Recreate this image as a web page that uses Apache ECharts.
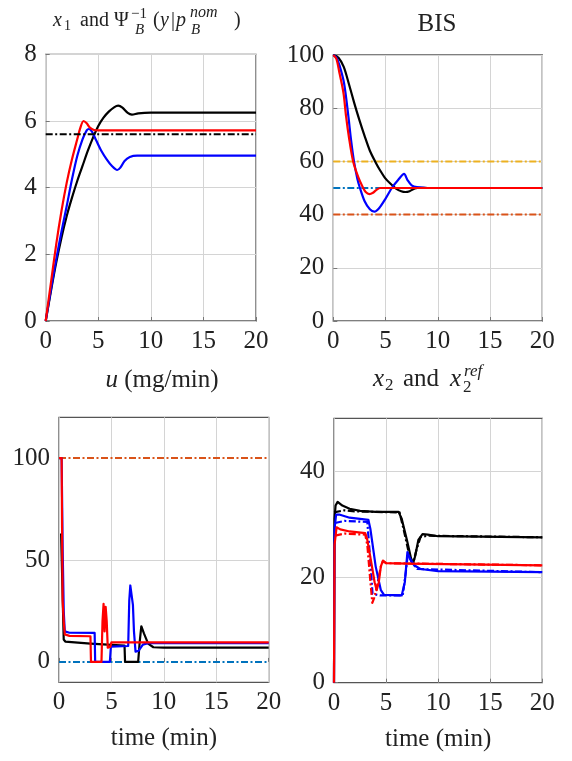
<!DOCTYPE html>
<html>
<head>
<meta charset="utf-8">
<script src="https://cdn.jsdelivr.net/npm/echarts@6/dist/echarts.min.js"></script>
<style>html,body{margin:0;padding:0;background:#fff}#c{width:572px;height:761px}</style>
</head>
<body>
<div id="c"></div>
<script>
// ---------- DATA ----------
// Top-left: x1 and Psi_B^-1(y|p_B^nom)
const x1Black = [[0,0],[0.5,0.9],[1.0,1.75],[1.5,2.5],[2.0,3.15],[2.5,3.7],[3.0,4.2],[3.5,4.65],[4.0,5.1],[4.5,5.5],[5.0,5.85],[5.5,6.1],[6.0,6.28],[6.5,6.41],[6.9,6.46],[7.3,6.4],[7.8,6.24],[8.2,6.19],[8.8,6.23],[10,6.25],[14,6.25],[20,6.25]];
const x1Blue  = [[0,0],[0.5,0.95],[1.0,1.85],[1.5,2.68],[2.0,3.45],[2.5,4.25],[3.0,4.95],[3.5,5.45],[3.9,5.72],[4.1,5.76],[4.4,5.68],[4.8,5.42],[5.3,5.1],[5.8,4.85],[6.3,4.65],[6.8,4.53],[7.1,4.6],[7.5,4.8],[8.0,4.92],[8.7,4.96],[10,4.96],[14,4.96],[20,4.96]];
const x1Red   = [[0,0],[0.5,1.15],[1.0,2.3],[1.5,3.3],[2.0,4.15],[2.5,4.85],[3.0,5.45],[3.3,5.8],[3.6,6.0],[3.9,5.93],[4.2,5.8],[4.6,5.73],[5.0,5.72],[6,5.72],[10,5.72],[20,5.72]];
const x1Ref   = [[0,5.6],[20,5.6]];
// Top-right: BIS
const bisBlack = [[0,100],[0.5,99],[1,95.5],[1.5,89],[2,82],[2.5,75.5],[3,69.5],[3.5,64],[4,60],[4.5,56.5],[5,53.5],[5.5,51.5],[6,49.8],[6.5,48.8],[6.9,48.5],[7.3,48.8],[7.8,49.8],[8.3,50.1],[9,50],[10,50],[14,50],[20,50]];
const bisBlue  = [[0,100],[0.3,99],[0.6,96],[1.03,89.4],[1.44,77],[1.7,68],[1.98,60],[2.3,53.5],[2.55,50],[3,45],[3.5,42],[3.93,41.1],[4.4,42.5],[5,46],[5.6,50],[6.2,53],[6.77,55.3],[7.1,53],[7.5,51],[8,50.3],[9,50],[10,50],[14,50],[20,50]];
const bisRed   = [[0,100],[0.3,98.5],[0.6,93],[0.8,89.4],[1,85],[1.22,77],[1.5,69],[1.9,60],[2.4,54],[2.8,50.5],[3.1,48.5],[3.45,47.7],[3.8,48.2],[4.1,49.2],[4.5,50],[5,50],[10,50],[20,50]];
const bisUpper  = [[0,60],[20,60]];
const bisTarget = [[0,50],[20,50]];
const bisLower  = [[0,40],[20,40]];
// Bottom-left: u (mg/min)
const uBlack = [[0.2,63],[0.3,63],[0.45,11],[0.6,10],[3,9],[6.25,8],[6.3,0],[7.55,0],[7.7,10],[7.85,17.5],[8.1,14],[8.5,9],[9,7.2],[10,7],[20,7]];
const uBlue  = [[0,100],[0.25,100],[0.35,55],[0.45,25],[0.55,15],[1,14.3],[3.4,14.2],[3.45,0],[4.85,0],[4.95,7.5],[6.6,7.8],[6.7,30],[6.8,37.5],[6.95,37],[7.05,28],[7.15,15],[7.3,5],[7.6,5.5],[8.0,8.5],[8.5,9.2],[20,9.2]];
const uRed   = [[0,100],[0.25,100],[0.3,60],[0.35,30],[0.45,20],[0.55,13.5],[1,12.8],[3.0,12.6],[3.05,0],[4.05,0],[4.15,20],[4.25,28.5],[4.35,15],[4.45,27],[4.55,20],[4.65,7],[4.9,7.5],[5.0,9.6],[20,9.6]];
const uMax = [[0,100],[20,100]];
const uMin = [[0,0],[20,0]];
const uTicks = [0, 50, 100];
const uGrid = [50];
// Bottom-right: x2 and x2ref
const x2Black    = [[0,0],[0.05,31],[0.15,33.5],[0.35,34.2],[0.8,33.5],[1.5,32.9],[2.5,32.5],[4,32.3],[6.2,32.3],[6.5,31],[7.0,27],[7.4,23.5],[7.6,22.6],[7.8,24],[8.1,27],[8.5,28.1],[9,28],[10,27.7],[20,27.5]];
const x2BlackRef = [[0,32.2],[1,32.6],[2,32.4],[6.3,32.2],[6.8,28],[7.3,23.5],[7.6,22.6],[7.9,25],[8.3,27.5],[9,27.8],[20,27.5]];
const x2Blue     = [[0,0],[0.05,29],[0.2,31.8],[0.5,31.8],[1.5,31.2],[3.3,30.8],[3.5,29],[4.0,22],[4.5,17.5],[4.8,16.6],[6.5,16.5],[6.8,19],[7.05,24.7],[7.3,23.5],[7.7,22.2],[8.3,21.5],[10,21.1],[20,20.9]];
const x2BlueRef  = [[0.1,30.2],[1,30.6],[3.2,30.4],[3.45,24],[3.7,16.8],[4.4,16.5],[6.6,16.5],[6.9,21],[7.1,24.5],[7.4,23],[8,21.5],[20,20.9]];
const x2Red      = [[0,0],[0.05,26],[0.25,29.4],[0.6,29],[1.5,28.6],[3.0,28.3],[3.2,27],[3.6,22.5],[3.9,19],[4.1,17.5],[4.3,19],[4.5,22],[4.7,23.1],[5,22.6],[7,22.5],[20,22.2]];
const x2RedRef   = [[0.1,27.8],[1,28.2],[3.0,28],[3.2,26],[3.5,19],[3.68,15.1],[3.85,16],[4.1,18],[4.5,22],[4.7,23],[5,22.6],[20,22.2]];
const x2Ticks = [0, 20, 40];
const x2Grid = [20, 40];

// ---------- STYLE ----------
const FF = '"Liberation Serif", "Times New Roman", serif';
const TXT = '#222';
const GRIDC = '#d4d4d4';
const C_BLACK = '#000', C_BLUE = '#0000ff', C_RED = '#ff0000';
const C_ORANGE = '#EDB120', C_LBLUE = '#0072BD', C_RORANGE = '#D95319';
const DASHDOT = [7, 2.5, 2, 2.5];

function xAxis(i, withName) {
  const a = {
    gridIndex: i, type: 'value', min: 0, max: 20, interval: 5,
    axisLine: {show: false},
    axisTick: {show: true, inside: true, length: 4, lineStyle: {color: '#777'}},
    axisLabel: {fontFamily: FF, fontSize: 25, color: TXT, margin: 8},
    splitLine: {show: true, lineStyle: {color: GRIDC, width: 1}}
  };
  if (withName) {
    a.name = 'time (min)';
    a.nameLocation = 'middle';
    a.nameGap = 44;
    a.nameTextStyle = {fontFamily: FF, fontSize: 25, color: TXT};
  }
  return a;
}
function yAxis(i, min, max, interval, custom) {
  const a = {
    gridIndex: i, type: 'value', min: min, max: max,
    axisLine: {show: false},
    axisTick: {show: true, inside: true, length: 4, lineStyle: {color: '#777'}},
    axisLabel: {fontFamily: FF, fontSize: 25, color: TXT, margin: 9},
    splitLine: {show: true, lineStyle: {color: GRIDC, width: 1}}
  };
  if (custom) {
    a.axisLabel.customValues = custom;
    a.axisTick.customValues = custom;
    a.splitLine.show = false;
  } else {
    a.interval = interval;
  }
  return a;
}
function line(i, data, color, opts) {
  opts = opts || {};
  return {
    type: 'line', xAxisIndex: i, yAxisIndex: i, data: data,
    showSymbol: false, symbol: 'none', animation: false,
    smooth: opts.smooth ? 0.3 : false,
    z: opts.z || 3,
    lineStyle: {color: color, width: opts.width || 2.2, type: opts.dash ? DASHDOT : 'solid', cap: 'butt', join: 'round'}
  };
}
// horizontal grid lines for axes that use custom tick values
function gridLines(i, values) {
  return {
    type: 'line', xAxisIndex: i, yAxisIndex: i, data: [], z: 1, silent: true,
    markLine: {
      silent: true, symbol: ['none', 'none'], animation: false, z: 1,
      label: {show: false},
      lineStyle: {color: GRIDC, width: 1, type: 'solid'},
      data: values.map(v => ({yAxis: v}))
    }
  };
}

const grids = [
  {left: 45.7, top: 54.3, width: 210.3, height: 266.7},
  {left: 333.3, top: 55, width: 209, height: 266},
  {left: 59, top: 417.3, width: 209.7, height: 265},
  {left: 334, top: 418.3, width: 208.3, height: 264.4}
].map(g => Object.assign(g, {show: true, borderColor: '#555', borderWidth: 1.3, backgroundColor: 'transparent', containLabel: false}));

function t(text, x, y, size, italic, align) {
  return {
    type: 'text', x: x, y: y, z: 100,
    style: {
      text: text, x: 0, y: 0,
      font: (italic ? 'italic ' : '') + size + 'px ' + FF,
      fill: TXT, textAlign: align || 'left', align: align || 'left',
      textVerticalAlign: 'middle', verticalAlign: 'middle'
    }
  };
}

const graphics = [
  // top-left title: x1 and Psi_B^{-1}(y|p_B^{nom})
  t('x', 53, 21, 20, true),
  t('1', 64, 26, 14, false),
  t('and', 80, 21, 20, false),
  t('\u03A8', 114, 21, 20, false),
  t('\u22121', 131, 14, 15, false),
  t('B', 135, 30, 15, true),
  t('(', 153, 21, 20, false),
  t('y', 160, 21, 20, true),
  t('|', 171, 21, 20, false),
  t('p', 176, 21, 20, true),
  t('nom', 190, 13, 16, true),
  t('B', 191, 30, 15, true),
  t(')', 234, 21, 20, false),
  // BIS
  t('BIS', 437, 24.5, 25, false, 'center'),
  // u (mg/min)
  {
    type: 'text', x: 162, y: 380.5, z: 100,
    style: {
      text: '{i|u} (mg/min)', x: 0, y: 0,
      font: '25px ' + FF, fill: TXT,
      textAlign: 'center', align: 'center', textVerticalAlign: 'middle', verticalAlign: 'middle',
      rich: {i: {fontStyle: 'italic', fontFamily: FF, fontSize: 25, fill: TXT, color: TXT}}
    }
  },
  // x2 and x2^ref
  t('x', 373, 379.5, 25, true),
  t('2', 385, 386, 17, false),
  t('and', 403, 379.5, 25, false),
  t('x', 450, 379.5, 25, true),
  t('ref', 464, 372, 17, true),
  t('2', 463, 388, 17, false)
];

const option = {
  animation: false,
  backgroundColor: '#fff',
  grid: grids,
  xAxis: [xAxis(0), xAxis(1), xAxis(2, true), xAxis(3, true)],
  yAxis: [yAxis(0, 0, 8, 2), yAxis(1, 0, 100, 20), yAxis(2, -10, 120, null, uTicks), yAxis(3, 0, 50, null, x2Ticks)],
  graphic: graphics,
  series: [
    // top-left
    line(0, x1Black, C_BLACK, {smooth: true}),
    line(0, x1Blue, C_BLUE, {smooth: true}),
    line(0, x1Red, C_RED, {smooth: true}),
    line(0, x1Ref, C_BLACK, {dash: true, z: 4, width: 2}),
    // top-right
    line(1, bisUpper, C_ORANGE, {dash: true, z: 2, width: 2}),
    line(1, bisTarget, C_LBLUE, {dash: true, z: 2, width: 2}),
    line(1, bisLower, C_RORANGE, {dash: true, z: 2, width: 2}),
    line(1, bisBlack, C_BLACK, {smooth: true}),
    line(1, bisBlue, C_BLUE, {smooth: true}),
    line(1, bisRed, C_RED, {smooth: true}),
    // bottom-left
    gridLines(2, uGrid),
    line(2, uMax, C_RORANGE, {dash: true, z: 2, width: 2}),
    line(2, uMin, C_LBLUE, {dash: true, z: 2, width: 2}),
    line(2, uBlack, C_BLACK),
    line(2, uBlue, C_BLUE),
    line(2, uRed, C_RED),
    // bottom-right
    gridLines(3, x2Grid),
    line(3, x2BlackRef, C_BLACK, {dash: true, z: 2}),
    line(3, x2BlueRef, C_BLUE, {dash: true, z: 2}),
    line(3, x2RedRef, C_RED, {dash: true, z: 2}),
    line(3, x2Black, C_BLACK),
    line(3, x2Blue, C_BLUE),
    line(3, x2Red, C_RED)
  ]
};

const chart = echarts.init(document.getElementById('c'), null, {renderer: 'canvas'});
chart.setOption(option);
</script>
</body>
</html>
